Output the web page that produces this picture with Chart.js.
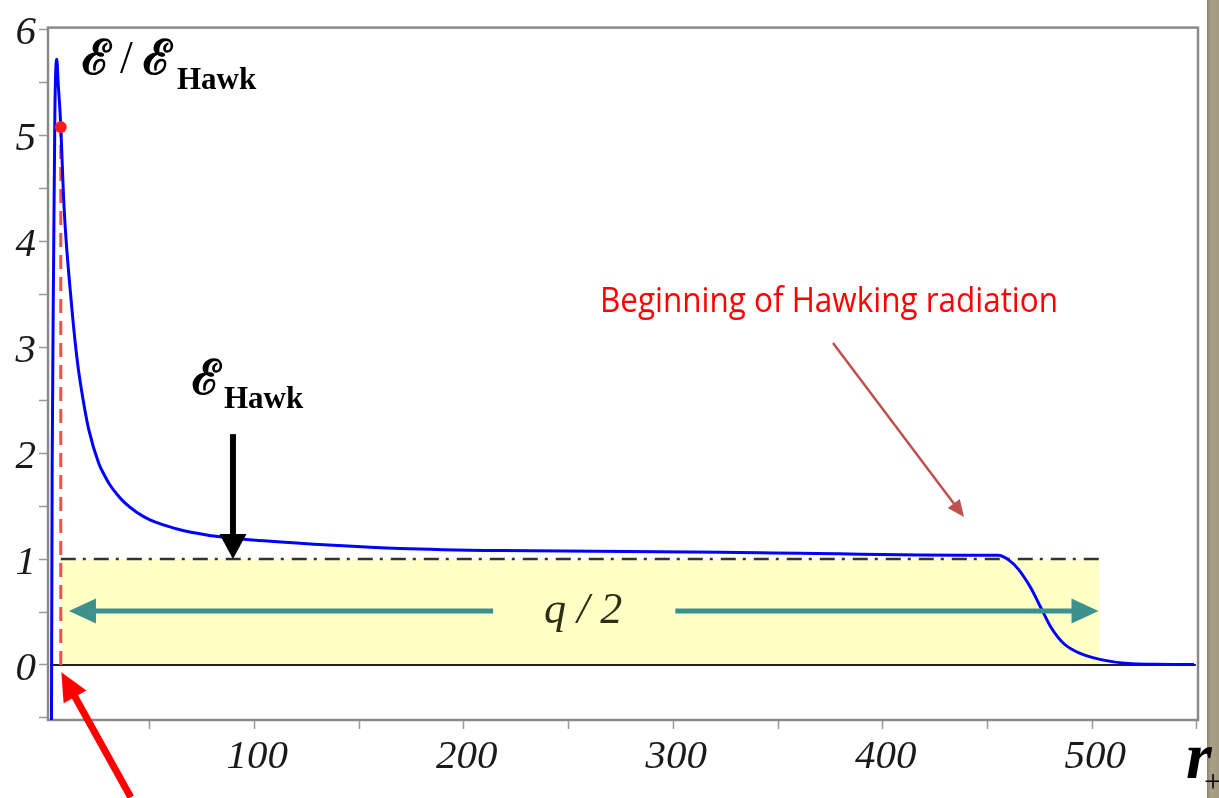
<!DOCTYPE html>
<html>
<head>
<meta charset="utf-8">
<script src="https://cdn.jsdelivr.net/npm/chart.js@4.4.1/dist/chart.umd.min.js"></script>
<style>
  html, body { margin: 0; padding: 0; background: #ffffff; }
  #wrap { position: relative; width: 1219px; height: 798px; overflow: hidden; }
</style>
</head>
<body>
<div id="wrap"><canvas id="chart" width="1219" height="798"></canvas></div>
<script>
// Energy ratio E/E_Hawk versus horizon radius r+
const radius = [3.1, 3.5, 4.2, 4.8, 5.7, 6.4, 7.2, 7.6, 9.2, 12.8, 15.5, 18.3, 21.0, 25.8, 28.5, 31.1, 34.5, 38.2, 44.0, 50.2, 57.0, 65.9, 83.6, 106.1, 137.6, 169.7, 217.4, 322.6, 437.3, 455.0, 460.2, 464.5, 470.7, 475.5, 480.3, 486.5, 494.6, 504.2, 517.1, 530.0, 548.6];
const energyRatio = [-1.0, 1.90, 3.85, 5.24, 5.72, 5.48, 5.24, 5.08, 4.31, 3.39, 2.87, 2.50, 2.22, 1.90, 1.79, 1.70, 1.61, 1.53, 1.44, 1.37, 1.32, 1.27, 1.21, 1.17, 1.13, 1.10, 1.08, 1.065, 1.037, 1.035, 0.99, 0.91, 0.727, 0.54, 0.356, 0.20, 0.106, 0.05, 0.013, 0.006, 0.004];

// Marked starting point and the q/2 band
const startPoint = { r: 7.6, e: 5.08 };
const bandR = [7.6, 503.5];
const hawkLevel = 1;
const zeroLineR = [2.5, 549.5];

// Axis ticks (labelled values and all tick marks)
const xTickLabels = [100, 200, 300, 400, 500];
const xTickMarks = [50, 100, 150, 200, 250, 300, 350, 400, 450, 500, 550];
const yTickLabels = [0, 1, 2, 3, 4, 5, 6];
const yTickMarks = [-0.5, 0, 0.5, 1, 1.5, 2, 2.5, 3, 3.5, 4, 4.5, 5, 5.5, 6];

const serif = '"Liberation Serif", "Times New Roman", serif';

function drawArrow(ctx, x1, y1, x2, y2, width, headLen, headHalf, color) {
  const a = Math.atan2(y2 - y1, x2 - x1);
  const bx = x2 - headLen * Math.cos(a), by = y2 - headLen * Math.sin(a);
  ctx.save();
  ctx.strokeStyle = color; ctx.fillStyle = color; ctx.lineWidth = width; ctx.lineCap = 'butt';
  ctx.beginPath(); ctx.moveTo(x1, y1); ctx.lineTo(bx + Math.cos(a), by + Math.sin(a)); ctx.stroke();
  ctx.beginPath();
  ctx.moveTo(x2, y2);
  ctx.lineTo(bx + headHalf * Math.sin(a), by - headHalf * Math.cos(a));
  ctx.lineTo(bx - headHalf * Math.sin(a), by + headHalf * Math.cos(a));
  ctx.closePath(); ctx.fill();
  ctx.restore();
}

const framePlugin = {
  id: 'frame',
  beforeDraw(chart) {
    const ctx = chart.ctx;
    ctx.save();
    // textured page edge on the right
    const g = ctx.createLinearGradient(1207, 0, 1219, 0);
    g.addColorStop(0, '#8c836c'); g.addColorStop(0.3, '#aa9f86'); g.addColorStop(1, '#a39880');
    ctx.fillStyle = g;
    ctx.fillRect(1207, 0, 12, 798);
    ctx.restore();
  },
  beforeDatasetsDraw(chart) {
    const { ctx, chartArea: a } = chart;
    ctx.save();
    ctx.strokeStyle = '#8a8a8a';
    ctx.lineWidth = 2.5;
    ctx.strokeRect(a.left, a.top, a.right - a.left, a.bottom - a.top);
    ctx.restore();
  },
  afterDraw(chart) {
    const ctx = chart.ctx;
    const x = chart.scales.x, y = chart.scales.y;
    const px = v => x.getPixelForValue(v), py = v => y.getPixelForValue(v);
    ctx.save();

    // q/2 span arrows and label
    drawArrow(ctx, px(214), py(0.51), px(11.5), py(0.51), 5, 27, 12.5, '#3d918c');
    drawArrow(ctx, px(301), py(0.51), px(503), py(0.51), 5, 27, 12.5, '#3d918c');
    ctx.fillStyle = '#2e2e12';
    ctx.font = 'italic 44px ' + serif;
    ctx.textAlign = 'center'; ctx.textBaseline = 'middle';
    ctx.fillText('q / 2', px(257), py(0.51));

    // E_Hawk pointer
    drawArrow(ctx, px(89.8), py(2.18), px(89.8), py(1.0), 6, 25, 13.5, '#000000');
    ctx.textAlign = 'left'; ctx.textBaseline = 'alphabetic';
    ctx.fillStyle = '#000000';
    ctx.font = 'bold 48px "DejaVu Serif", ' + serif;
    ctx.fillText('ℰ', 192, 394);
    ctx.font = 'bold 31px ' + serif;
    ctx.fillText('Hawk', 224, 408);

    // axis title E / E_Hawk
    ctx.font = 'bold 48px "DejaVu Serif", ' + serif;
    ctx.fillText('ℰ', 82, 74);
    ctx.font = '46px ' + serif;
    ctx.fillText('/', 120, 73);
    ctx.font = 'bold 48px "DejaVu Serif", ' + serif;
    ctx.fillText('ℰ', 143, 74);
    ctx.font = 'bold 31px ' + serif;
    ctx.fillText('Hawk', 177, 89);

    // Hawking radiation note
    ctx.fillStyle = '#ff0000';
    ctx.font = '34px "Open Sans", "Noto Sans", sans-serif';
    ctx.fillText('Beginning of Hawking radiation', 600, 312, 458);
    drawArrow(ctx, 833, 343, 964, 517, 2.5, 17, 7.5, '#c0504d');

    // pointer to the starting radius
    drawArrow(ctx, px(41), py(-1.25), px(7.9), py(-0.07), 7, 28, 13, '#ff0000');

    // x axis title r+
    ctx.fillStyle = '#000000';
    ctx.font = 'bold italic 66px ' + serif;
    ctx.fillText('r', 1186, 778);
    ctx.font = '32px ' + serif;
    ctx.textBaseline = 'middle';
    ctx.fillText('+', 1204, 784);
    ctx.restore();
  }
};

new Chart(document.getElementById('chart'), {
  type: 'scatter',
  data: {
    datasets: [
      {
        label: 'start',
        data: [{ x: startPoint.r, y: startPoint.e }],
        pointRadius: 6, pointBackgroundColor: '#ff1a1a', pointBorderWidth: 0,
        showLine: false, order: 0
      },
      {
        label: 'ratio',
        data: radius.map((r, i) => ({ x: r, y: energyRatio[i] })),
        showLine: true, borderColor: '#0000ff', borderWidth: 3,
        cubicInterpolationMode: 'monotone', pointRadius: 0, order: 1
      },
      {
        label: 'start radius',
        data: [{ x: startPoint.r, y: 0 }, { x: startPoint.r, y: startPoint.e }],
        showLine: true, borderColor: '#ff4a4a', borderWidth: 3, borderDash: [14, 8],
        pointRadius: 0, order: 2
      },
      {
        label: 'hawk level',
        data: [{ x: bandR[0], y: hawkLevel }, { x: bandR[1] + 1, y: hawkLevel }],
        showLine: true, borderColor: '#333333', borderWidth: 2.5, borderDash: [15, 7, 3, 8],
        pointRadius: 0, order: 3
      },
      {
        label: 'zero',
        data: [{ x: zeroLineR[0], y: 0 }, { x: zeroLineR[1], y: 0 }],
        showLine: true, borderColor: '#222222', borderWidth: 2,
        pointRadius: 0, order: 4
      },
      {
        label: 'band',
        data: [{ x: bandR[0], y: hawkLevel }, { x: bandR[1], y: hawkLevel }],
        showLine: true, borderWidth: 0, borderColor: 'rgba(0,0,0,0)',
        backgroundColor: '#ffffc6', fill: { value: 0 },
        pointRadius: 0, order: 5
      }
    ]
  },
  options: {
    responsive: false,
    animation: false,
    layout: { padding: { top: 17, right: 21, left: 0, bottom: 0 } },
    plugins: { legend: { display: false }, tooltip: { enabled: false } },
    scales: {
      x: {
        type: 'linear', min: 1.5, max: 550.5,
        afterFit(s) { s.height = 78; },
        afterBuildTicks(s) { s.ticks = xTickMarks.map(v => ({ value: v })); },
        border: { display: false },
        grid: { drawOnChartArea: false, drawTicks: true, tickLength: 9, tickColor: '#9a9a9a', tickWidth: 1.5 },
        ticks: {
          autoSkip: false, maxRotation: 0, minRotation: 0,
          labelOffset: 3, padding: 4, color: '#1a1a1a',
          font: { family: serif, style: 'italic', size: 41 },
          callback: v => xTickLabels.includes(v) ? String(v) : ''
        }
      },
      y: {
        type: 'linear', min: -0.52, max: 6.02,
        afterFit(s) { s.width = 48; },
        afterBuildTicks(s) { s.ticks = yTickMarks.map(v => ({ value: v })); },
        border: { display: false },
        grid: { drawOnChartArea: false, drawTicks: true, tickLength: 9, tickColor: '#9a9a9a', tickWidth: 1.5 },
        ticks: {
          autoSkip: false,
          labelOffset: 4, padding: 3, color: '#1a1a1a',
          font: { family: serif, style: 'italic', size: 41 },
          callback: v => yTickLabels.includes(v) ? String(v) : ''
        }
      }
    }
  },
  plugins: [framePlugin]
});
</script>
</body>
</html>
